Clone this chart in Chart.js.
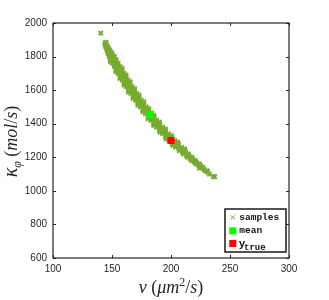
<!DOCTYPE html>
<html lang="en">
<head>
<meta charset="UTF-8">
<title>Posterior samples</title>
<script src="https://cdn.jsdelivr.net/npm/chart.js"></script>
<style>
  html, body { margin: 0; padding: 0; background: #fff; }
  #wrap { width: 329px; height: 300px; }
</style>
</head>
<body>
<div id="wrap"><canvas id="chart" width="329" height="300"></canvas></div>
<script>
// axis ticks
const nuTicks = [100, 150, 200, 250, 300];
const kappaTicks = [600, 800, 1000, 1200, 1400, 1600, 1800, 2000];

// posterior samples [nu, kappa]
const samples = [
  [140.5, 1940],
  [144.0, 1880], [145.0, 1885],
  [144.2, 1870], [145.2, 1870],
  [144.6, 1860], [146.2, 1860],
  [145.3, 1850], [146.9, 1850],
  [145.8, 1840], [146.8, 1840], [147.8, 1840],
  [146.3, 1830], [148.8, 1830],
  [146.6, 1820], [148.3, 1820], [150.0, 1820],
  [147.8, 1810], [150.3, 1810],
  [147.6, 1800], [149.8, 1800], [152.0, 1800],
  [149.3, 1790], [151.8, 1790],
  [149.0, 1780], [151.3, 1780], [153.6, 1780],
  [150.8, 1770], [153.3, 1770], [148.6, 1770],
  [150.4, 1760], [152.8, 1760], [155.2, 1760],
  [152.3, 1750], [154.9, 1750],
  [152.0, 1740], [154.4, 1740], [156.8, 1740],
  [153.9, 1730], [156.5, 1730], [158.6, 1730],
  [153.5, 1720], [156.0, 1720], [158.5, 1720],
  [155.5, 1710], [158.1, 1710], [153.3, 1710],
  [155.2, 1700], [157.7, 1700], [160.2, 1700],
  [157.2, 1690], [159.8, 1690], [161.9, 1690],
  [156.9, 1680], [159.4, 1680], [161.9, 1680],
  [158.9, 1670], [161.5, 1670], [156.7, 1670],
  [158.6, 1660], [161.1, 1660], [163.6, 1660],
  [160.6, 1650], [163.2, 1650], [165.4, 1650],
  [160.3, 1640], [162.8, 1640], [165.3, 1640],
  [162.4, 1630], [165.0, 1630], [160.2, 1630],
  [162.2, 1620], [164.7, 1620], [167.2, 1620],
  [164.3, 1610], [166.9, 1610], [169.1, 1610],
  [164.0, 1600], [166.5, 1600], [169.0, 1600],
  [166.1, 1590], [168.7, 1590], [163.9, 1590],
  [165.9, 1580], [168.4, 1580], [170.9, 1580],
  [168.1, 1570], [170.7, 1570], [172.9, 1570],
  [167.9, 1560], [170.4, 1560], [172.9, 1560],
  [170.1, 1550], [172.7, 1550], [167.8, 1550],
  [169.9, 1540], [172.4, 1540], [174.9, 1540],
  [172.1, 1530], [174.7, 1530], [176.9, 1530],
  [171.9, 1520], [174.4, 1520], [176.9, 1520],
  [174.2, 1510], [176.8, 1510], [171.9, 1510],
  [174.0, 1500], [176.5, 1500], [179.0, 1500],
  [176.3, 1490], [178.9, 1490], [181.1, 1490],
  [176.1, 1480], [178.6, 1480], [181.1, 1480],
  [178.4, 1470], [181.0, 1470], [176.1, 1470],
  [178.3, 1460], [180.8, 1460], [183.3, 1460],
  [180.7, 1450], [183.3, 1450], [185.5, 1450],
  [180.6, 1440], [183.1, 1440], [185.6, 1440],
  [183.0, 1430], [185.6, 1430], [180.6, 1430],
  [182.9, 1420], [185.4, 1420], [187.9, 1420],
  [185.3, 1410], [187.9, 1410], [190.2, 1410],
  [185.3, 1400], [187.8, 1400], [190.3, 1400],
  [187.8, 1390], [190.4, 1390], [185.4, 1390],
  [187.8, 1380], [190.3, 1380], [192.8, 1380],
  [190.3, 1370], [192.9, 1370], [195.2, 1370],
  [190.3, 1360], [192.8, 1360], [195.3, 1360],
  [192.8, 1350], [195.4, 1350], [190.5, 1350],
  [192.9, 1340], [195.4, 1340], [197.9, 1340],
  [195.4, 1330], [198.0, 1330], [200.3, 1330],
  [195.5, 1320], [198.0, 1320], [200.5, 1320],
  [198.1, 1310], [200.7, 1310], [195.8, 1310],
  [198.3, 1300], [200.8, 1300], [203.3, 1300],
  [200.9, 1290], [203.5, 1290], [205.8, 1290],
  [201.1, 1280], [203.6, 1280], [206.1, 1280],
  [203.8, 1270], [206.4, 1270], [201.5, 1270],
  [204.0, 1260], [206.5, 1260], [209.0, 1260],
  [206.7, 1250], [209.3, 1250], [211.4, 1250],
  [207.0, 1240], [209.5, 1240], [212.0, 1240],
  [209.8, 1230], [212.3, 1230],
  [210.6, 1220], [212.6, 1220], [214.6, 1220],
  [213.1, 1210], [215.3, 1210],
  [214.0, 1200], [215.8, 1200], [217.6, 1200],
  [216.5, 1190], [218.4, 1190],
  [217.6, 1180], [219.1, 1180], [220.6, 1180],
  [220.0, 1170], [221.6, 1170],
  [221.3, 1160], [222.5, 1160], [224.0, 1160],
  [223.6, 1150], [225.0, 1150],
  [225.0, 1140], [227.0, 1140], [224.0, 1135],
  [228.0, 1128], [229.0, 1120], [230.5, 1120], [231.0, 1112],
  [232.5, 1100],
  [236.0, 1085], [237.0, 1085]
];

const meanPoint = [182.5, 1457];
const truePoint = [200, 1300];

const sampleColor = '#77AC30';
const axisColor = '#262626';

const serif = '"Liberation Serif", "DejaVu Serif", serif';
const mono = '"Liberation Mono", "DejaVu Sans Mono", monospace';

// draw a row of text pieces (for sub/superscripts), centred on x
function drawRuns(ctx, runs, x, y) {
  let total = 0;
  runs.forEach(r => { ctx.font = r.f; total += ctx.measureText(r.t).width; });
  let cx = x - total / 2;
  runs.forEach(r => {
    ctx.font = r.f;
    ctx.fillText(r.t, cx, y + (r.dy || 0));
    cx += ctx.measureText(r.t).width;
  });
}

const framePlugin = {
  id: 'frame',
  afterDraw(chart) {
    const ctx = chart.ctx;
    const a = chart.chartArea;
    const xs = chart.scales.x, ys = chart.scales.y;
    ctx.save();
    ctx.strokeStyle = axisColor;
    ctx.lineWidth = 1.2;
    ctx.strokeRect(a.left, a.top, a.right - a.left, a.bottom - a.top);
    // inward ticks on all sides
    ctx.lineWidth = 1;
    ctx.beginPath();
    nuTicks.forEach(v => {
      const px = Math.round(xs.getPixelForValue(v)) + 0.5;
      ctx.moveTo(px, a.bottom); ctx.lineTo(px, a.bottom - 3);
      ctx.moveTo(px, a.top); ctx.lineTo(px, a.top + 3);
    });
    kappaTicks.forEach(v => {
      const py = Math.round(ys.getPixelForValue(v)) + 0.5;
      ctx.moveTo(a.left, py); ctx.lineTo(a.left + 3, py);
      ctx.moveTo(a.right, py); ctx.lineTo(a.right - 3, py);
    });
    ctx.stroke();

    // axis titles
    ctx.fillStyle = axisColor;
    ctx.textBaseline = 'alphabetic';
    ctx.textAlign = 'left';
    const it = 'italic 18px ' + serif, up = '18px ' + serif;
    drawRuns(ctx, [
      { t: 'ν', f: it }, { t: ' (', f: up }, { t: 'μm', f: it },
      { t: '2', f: '12px ' + serif, dy: -7 }, { t: '/', f: up },
      { t: 's', f: it }, { t: ')', f: up }
    ], (a.left + a.right) / 2, 293);

    ctx.save();
    ctx.translate(17, (a.top + a.bottom) / 2 + 1);
    ctx.rotate(-Math.PI / 2);
    drawRuns(ctx, [
      { t: 'κ', f: 'italic 20px ' + serif }, { t: 'φ', f: 'italic 12px ' + serif, dy: 4 },
      { t: ' (', f: up }, { t: 'mol', f: it }, { t: '/', f: up },
      { t: 's', f: it }, { t: ')', f: up }
    ], 0, 0);
    ctx.restore();

    // legend
    const lx = 225, ly = 209, lw = 61, lh = 43;
    ctx.fillStyle = '#fff';
    ctx.fillRect(lx, ly, lw, lh);
    ctx.strokeStyle = '#1a1a1a';
    ctx.lineWidth = 1.5;
    ctx.strokeRect(lx, ly, lw, lh);

    ctx.strokeStyle = sampleColor;
    ctx.lineWidth = 1;
    ctx.beginPath();
    ctx.moveTo(230.7, 215.3); ctx.lineTo(234.7, 219.3);
    ctx.moveTo(234.7, 215.3); ctx.lineTo(230.7, 219.3);
    ctx.stroke();
    ctx.fillStyle = '#00FF00';
    ctx.fillRect(229.3, 227.3, 7, 7);
    ctx.fillStyle = '#FF0000';
    ctx.fillRect(229.3, 240, 7, 7);

    ctx.fillStyle = '#111';
    ctx.textBaseline = 'middle';
    ctx.font = 'bold 9.5px ' + mono;
    ctx.fillText('samples', 239.3, 217.8);
    ctx.fillText('mean', 239.3, 231);
    ctx.textBaseline = 'alphabetic';
    ctx.font = 'bold 11px ' + mono;
    ctx.fillText('y', 238.8, 246.5);
    ctx.font = 'bold 9px ' + mono;
    ctx.fillText('true', 244, 250);
    ctx.restore();
  }
};

const tickFont = { family: '"Liberation Sans", Arial, sans-serif', size: 10 };

new Chart(document.getElementById('chart'), {
  type: 'scatter',
  data: {
    datasets: [
      {
        label: 'y_true',
        data: [{ x: truePoint[0], y: truePoint[1] }],
        pointStyle: 'rect',
        pointRadius: 5,
        backgroundColor: '#FF0000',
        borderColor: '#FF0000',
        borderWidth: 0,
        order: 1
      },
      {
        label: 'mean',
        data: [{ x: meanPoint[0], y: meanPoint[1] }],
        pointStyle: 'rect',
        pointRadius: 5,
        backgroundColor: '#00FF00',
        borderColor: '#00FF00',
        borderWidth: 0,
        order: 2
      },
      {
        label: 'samples',
        data: samples.map(p => ({ x: p[0], y: p[1] })),
        pointStyle: 'crossRot',
        pointRadius: 3,
        borderWidth: 2,
        borderColor: sampleColor,
        backgroundColor: sampleColor,
        order: 3
      }
    ]
  },
  options: {
    responsive: false,
    animation: false,
    events: [],
    layout: { padding: { left: 0, top: 23, right: 40, bottom: 0 } },
    plugins: { legend: { display: false }, tooltip: { enabled: false } },
    scales: {
      x: {
        type: 'linear',
        min: 100, max: 300,
        grid: { display: false, drawTicks: false },
        border: { display: false },
        afterBuildTicks: s => { s.ticks = nuTicks.map(v => ({ value: v })); },
        afterFit: s => { s.height = 42; },
        ticks: {
          padding: 5,
          maxRotation: 0,
          color: axisColor,
          font: tickFont,
          callback: v => String(v)
        }
      },
      y: {
        type: 'linear',
        min: 600, max: 2000,
        grid: { display: false, drawTicks: false },
        border: { display: false },
        afterBuildTicks: s => { s.ticks = kappaTicks.map(v => ({ value: v })); },
        afterFit: s => { s.width = 53; },
        ticks: {
          padding: 6,
          color: axisColor,
          font: tickFont,
          callback: v => String(v)
        }
      }
    }
  },
  plugins: [framePlugin]
});
</script>
</body>
</html>
